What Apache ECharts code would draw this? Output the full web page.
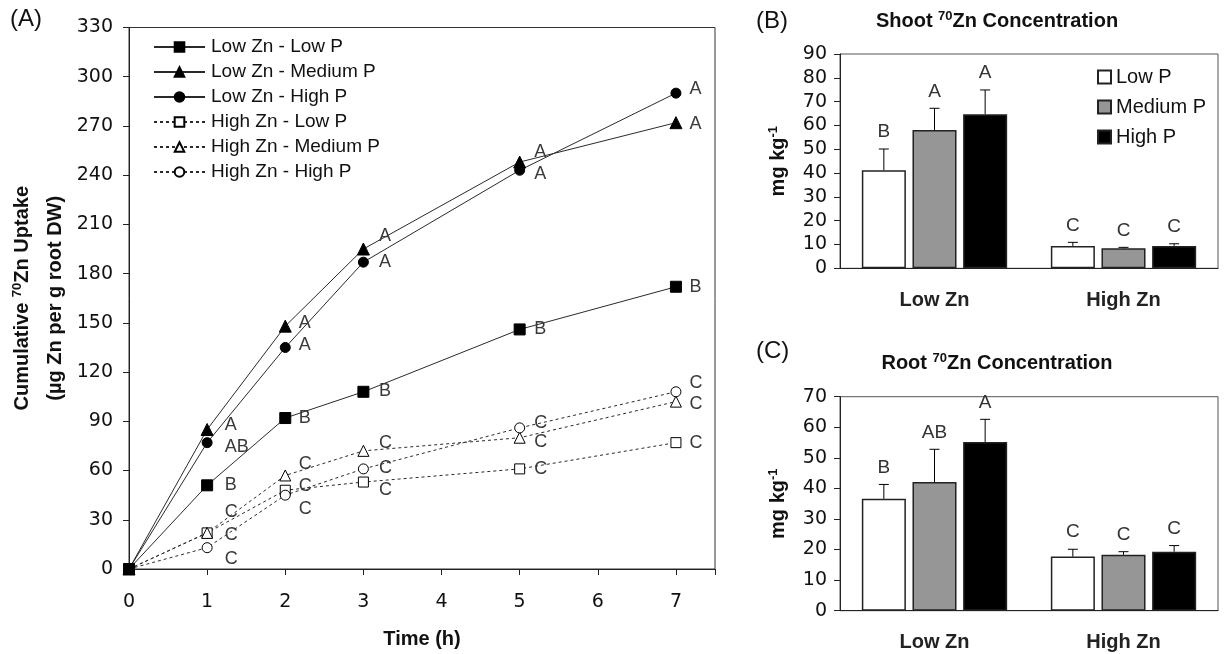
<!DOCTYPE html>
<html>
<head>
<meta charset="utf-8">
<script src="https://cdn.jsdelivr.net/npm/echarts@6/dist/echarts.min.js"></script>
<style>
  html, body { margin: 0; padding: 0; background: #fff; }
  #chart { width: 1225px; height: 654px; }
</style>
</head>
<body>
<div id="chart"></div>
<script>
// panel A: cumulative uptake over time
const times = [0, 1, 2, 3, 5, 7];
const lowZnLowP = [0, 51, 92, 108, 146, 172];
const lowZnMedP = [0, 85, 148, 195, 248, 272];
const lowZnHighP = [0, 77, 135, 187, 243, 290];
const highZnLowP = [0, 22, 48, 53, 61, 77];
const highZnMedP = [0, 22, 57, 72, 80, 102];
const highZnHighP = [0, 13, 45, 61, 86, 108];

const lettersLowZnLowP = ['', 'B', 'B', 'B', 'B', 'B'];
const lettersLowZnMedP = ['', 'A', 'A', 'A', 'A', 'A'];
const lettersLowZnHighP = ['', 'AB', 'A', 'A', 'A', 'A'];
const lettersHighZn = ['', 'C', 'C', 'C', 'C', 'C'];

const yTicksA = [0, 330, 30];

// panels B and C: concentrations
const zincLevels = ['Low Zn', 'High Zn'];
const phosLevels = ['Low P', 'Medium P', 'High P'];

const shootLowP = [41.2, 9.4];
const shootMedP = [58.1, 8.4];
const shootHighP = [64.7, 9.4];
const shootLowPErr = [8.9, 1.5];
const shootMedPErr = [9.1, 0.4];
const shootHighPErr = [10.2, 0.9];
const shootLowPLetters = ['B', 'C'];
const shootMedPLetters = ['A', 'C'];
const shootHighPLetters = ['A', 'C'];

const rootLowP = [36.6, 17.7];
const rootMedP = [42.1, 18.3];
const rootHighP = [55.2, 19.3];
const rootLowPErr = [4.7, 2.4];
const rootMedPErr = [10.7, 1.0];
const rootHighPErr = [7.4, 2.0];
const rootLowPLetters = ['B', 'C'];
const rootMedPLetters = ['AB', 'C'];
const rootHighPLetters = ['A', 'C'];

// label nudges for the letters in panel A (layout only)
const letterDx = [0, 17, 13, 15, 14, 13];
const nudgeLowZnLowP = [0, 0, 0, -1, 0, 0];
const nudgeLowZnMedP = [0, -4, -3, -13, -10, 1];
const nudgeLowZnHighP = [0, 4, -2, 0, 4, -4];
const nudgeHighZnLowP = [0, 2, -4, 8, 0, 0];
const nudgeHighZnMedP = [0, -21, -11, -8, 4, 2];
const nudgeHighZnHighP = [0, 11, 14, -1, -5, -9];

const SANS = 'Arial, "Liberation Sans", sans-serif';
const TICK = '"DejaVu Sans", sans-serif';
const BAR_W = 0.233;
const BAR_GAP = 0.15;
const barColors = ['#ffffff', '#969696', '#000000'];

const chart = echarts.init(document.getElementById('chart'));

const lineSeries = (name, values, letters, nudge, symbol, size, dashed) => ({
  name,
  type: 'line',
  xAxisIndex: 0,
  yAxisIndex: 0,
  symbol,
  symbolSize: size,
  color: '#000',
  itemStyle: { color: dashed ? '#fff' : '#000', borderColor: '#000', borderWidth: 1 },
  lineStyle: { color: '#2a2a2a', width: 1, type: dashed ? [3, 3] : 'solid' },
  emphasis: { disabled: true },
  z: dashed ? 3 : 4,
  data: values.map((v, i) => ({
    value: [times[i], v],
    label: {
      show: letters[i] !== '',
      formatter: letters[i],
      position: 'right',
      distance: 0,
      offset: [letterDx[i] - size / 2, nudge[i]],
      fontFamily: SANS,
      fontSize: 18,
      color: '#3a3a3a'
    }
  }))
});

const barSeries = (name, k, values, grid) => ({
  name,
  type: 'bar',
  xAxisIndex: grid,
  yAxisIndex: grid,
  barWidth: (BAR_W * 100) + '%',
  barGap: (BAR_GAP * 100) + '%',
  itemStyle: { color: barColors[k], borderColor: '#222', borderWidth: 1.5 },
  emphasis: { disabled: true },
  data: values
});

const errorSeries = (k, values, errs, letters, grid) => ({
  type: 'custom',
  xAxisIndex: grid,
  yAxisIndex: grid,
  z: 5,
  silent: true,
  data: values.map((v, i) => [i, v, v + errs[i]]),
  renderItem: (params, api) => {
    const cat = api.value(0);
    const band = api.size([1, 0])[0];
    const dx = (k - 1) * band * BAR_W * (1 + BAR_GAP);
    const base = api.coord([cat, api.value(1)]);
    const top = api.coord([cat, api.value(2)]);
    const x = base[0] + dx;
    const stroke = { stroke: '#000', lineWidth: 1 };
    return {
      type: 'group',
      children: [
        { type: 'line', shape: { x1: x, y1: base[1], x2: x, y2: top[1] }, style: stroke },
        { type: 'line', shape: { x1: x - 5, y1: top[1], x2: x + 5, y2: top[1] }, style: stroke },
        {
          type: 'text',
          x: x,
          y: top[1] - 17,
          style: {
            text: letters[params.dataIndex],
            fill: '#333',
            font: '19px ' + SANS,
            align: 'center',
            verticalAlign: 'middle'
          }
        }
      ]
    };
  }
});

const supRich = {
  sup: { fontSize: 13, fontWeight: 'bold', fontFamily: SANS, padding: [0, 0, 10, 0] }
};

const catAxis = (grid) => ({
  type: 'category',
  gridIndex: grid,
  data: zincLevels,
  axisLine: { lineStyle: { color: '#222', width: 1 } },
  axisTick: { length: 7, lineStyle: { color: '#222' } },
  axisLabel: {
    margin: 22,
    fontFamily: SANS,
    fontSize: 20,
    fontWeight: 'bold',
    color: '#222'
  }
});

const concAxis = (grid, max) => ({
  type: 'value',
  gridIndex: grid,
  min: 0,
  max,
  interval: 10,
  name: 'mg kg{sup|-1}',
  nameLocation: 'middle',
  nameGap: 50,
  nameTextStyle: {
    fontFamily: SANS,
    fontSize: 20,
    fontWeight: 'bold',
    color: '#111',
    rich: supRich
  },
  axisLine: { show: true, lineStyle: { color: '#222' } },
  axisTick: { show: true, length: 6, lineStyle: { color: '#222' } },
  splitLine: { show: false },
  axisLabel: { margin: 13, fontFamily: TICK, fontSize: 19, color: '#111' }
});

const option = {
  animation: false,
  backgroundColor: '#fff',
  title: [
    { text: '(A)', left: 10, top: 7, padding: 0, textStyle: { fontFamily: SANS, fontSize: 24, fontWeight: 'normal', color: '#111' } },
    { text: '(B)', left: 756, top: 9, padding: 0, textStyle: { fontFamily: SANS, fontSize: 24, fontWeight: 'normal', color: '#111' } },
    { text: '(C)', left: 756, top: 339, padding: 0, textStyle: { fontFamily: SANS, fontSize: 24, fontWeight: 'normal', color: '#111' } },
    {
      text: 'Shoot {sup|70}Zn Concentration',
      left: 997, top: 10, padding: 0, textAlign: 'center',
      textStyle: { fontFamily: SANS, fontSize: 20, fontWeight: 'bold', color: '#111', rich: supRich }
    },
    {
      text: 'Root {sup|70}Zn Concentration',
      left: 997, top: 352, padding: 0, textAlign: 'center',
      textStyle: { fontFamily: SANS, fontSize: 20, fontWeight: 'bold', color: '#111', rich: supRich }
    }
  ],
  legend: [
    {
      data: ['Low Zn - Low P', 'Low Zn - Medium P', 'Low Zn - High P',
             'High Zn - Low P', 'High Zn - Medium P', 'High Zn - High P'],
      orient: 'vertical',
      left: 153,
      top: 37,
      itemWidth: 51,
      itemHeight: 12,
      itemGap: 5,
      padding: 0,
      selectedMode: false,
      textStyle: { fontFamily: SANS, fontSize: 19, color: '#111', lineHeight: 20, padding: [0, 0, 0, 1] }
    },
    {
      data: phosLevels,
      orient: 'vertical',
      left: 1097,
      top: 67,
      itemWidth: 13,
      itemHeight: 13,
      itemGap: 10,
      padding: 0,
      icon: 'rect',
      selectedMode: false,
      textStyle: { fontFamily: SANS, fontSize: 20, color: '#111', lineHeight: 20 }
    }
  ],
  grid: [
    { left: 129, top: 27.5, width: 586, height: 542.5, show: true, borderColor: '#333', borderWidth: 1, containLabel: false },
    { left: 840, top: 54, width: 378, height: 214.3, show: true, borderColor: '#555', borderWidth: 1, containLabel: false },
    { left: 840, top: 396.7, width: 378, height: 214, show: true, borderColor: '#555', borderWidth: 1, containLabel: false }
  ],
  xAxis: [
    {
      type: 'value',
      gridIndex: 0,
      min: 0,
      max: 7.5,
      interval: 1,
      name: 'Time (h)',
      nameLocation: 'middle',
      nameGap: 60,
      nameTextStyle: { fontFamily: SANS, fontSize: 20, fontWeight: 'bold', color: '#111' },
      axisLine: { lineStyle: { color: '#222' } },
      axisTick: { length: 6, lineStyle: { color: '#222' } },
      splitLine: { show: false },
      axisLabel: {
        margin: 24,
        fontFamily: TICK,
        fontSize: 19,
        color: '#111',
        formatter: (v) => (Number.isInteger(v) ? String(v) : '')
      }
    },
    catAxis(1),
    catAxis(2)
  ],
  yAxis: [
    {
      type: 'value',
      gridIndex: 0,
      min: yTicksA[0],
      max: yTicksA[1],
      interval: yTicksA[2],
      name: 'Cumulative {sup|70}Zn Uptake\n(µg Zn per g root DW)',
      nameLocation: 'middle',
      nameGap: 57,
      nameTextStyle: {
        fontFamily: SANS,
        fontSize: 20,
        fontWeight: 'bold',
        color: '#111',
        lineHeight: 33,
        rich: supRich
      },
      axisLine: { show: true, lineStyle: { color: '#222' } },
      axisTick: { show: true, length: 6, lineStyle: { color: '#222' } },
      splitLine: { show: false },
      axisLabel: { margin: 16, fontFamily: TICK, fontSize: 19, color: '#111' }
    },
    concAxis(1, 90),
    concAxis(2, 70)
  ],
  series: [
    lineSeries('Low Zn - Low P', lowZnLowP, lettersLowZnLowP, nudgeLowZnLowP, 'rect', 11, false),
    lineSeries('Low Zn - Medium P', lowZnMedP, lettersLowZnMedP, nudgeLowZnMedP, 'triangle', 12, false),
    lineSeries('Low Zn - High P', lowZnHighP, lettersLowZnHighP, nudgeLowZnHighP, 'circle', 10, false),
    lineSeries('High Zn - Low P', highZnLowP, lettersHighZn, nudgeHighZnLowP, 'rect', 10, true),
    lineSeries('High Zn - Medium P', highZnMedP, lettersHighZn, nudgeHighZnMedP, 'triangle', 11, true),
    lineSeries('High Zn - High P', highZnHighP, lettersHighZn, nudgeHighZnHighP, 'circle', 10, true),

    barSeries('Low P', 0, shootLowP, 1),
    barSeries('Medium P', 1, shootMedP, 1),
    barSeries('High P', 2, shootHighP, 1),
    errorSeries(0, shootLowP, shootLowPErr, shootLowPLetters, 1),
    errorSeries(1, shootMedP, shootMedPErr, shootMedPLetters, 1),
    errorSeries(2, shootHighP, shootHighPErr, shootHighPLetters, 1),

    barSeries('Low P', 0, rootLowP, 2),
    barSeries('Medium P', 1, rootMedP, 2),
    barSeries('High P', 2, rootHighP, 2),
    errorSeries(0, rootLowP, rootLowPErr, rootLowPLetters, 2),
    errorSeries(1, rootMedP, rootMedPErr, rootMedPLetters, 2),
    errorSeries(2, rootHighP, rootHighPErr, rootHighPLetters, 2)
  ]
};

chart.setOption(option);
</script>
</body>
</html>
